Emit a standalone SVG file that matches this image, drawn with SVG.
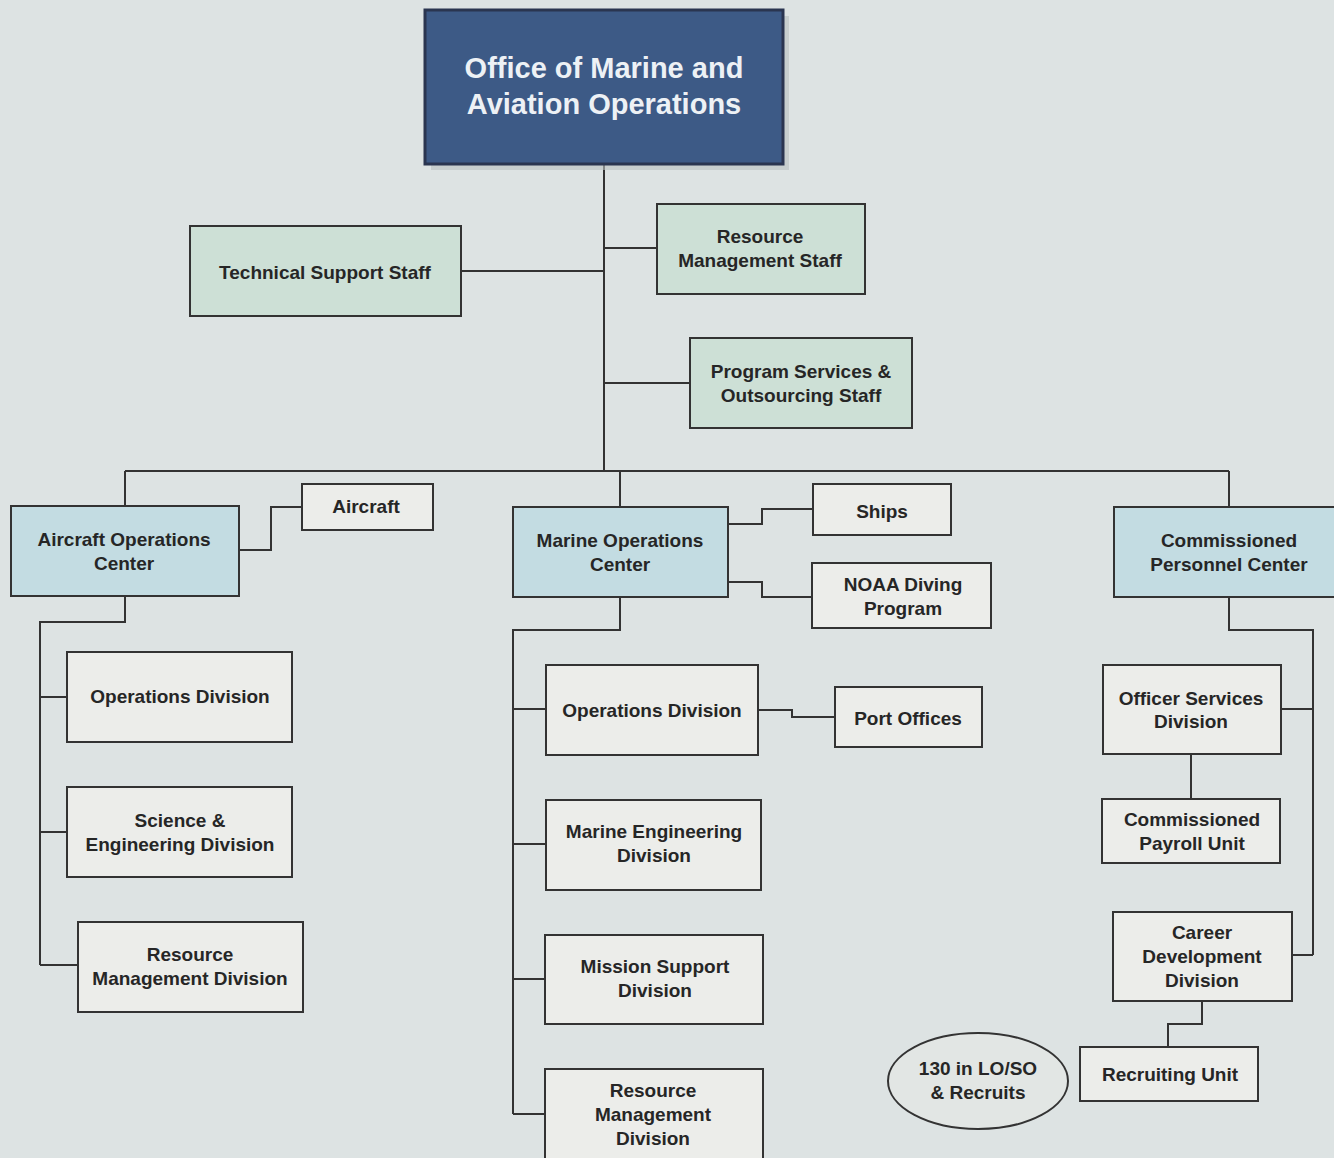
<svg xmlns="http://www.w3.org/2000/svg" width="1334" height="1158" viewBox="0 0 1334 1158">
<style>
  .bg { fill: #dde3e3; }
  .box { stroke: #333; stroke-width: 2; }
  .top { fill: #3d5a86; stroke: #2a3550; stroke-width: 3; }
  .staff { fill: #cde0d6; }
  .center { fill: #c3dce2; }
  .unit { fill: #ecedea; }
  .oval { fill: #e2e6e4; stroke: #333; stroke-width: 2; }
  .shadow { fill: #b9bfbf; opacity: 0.6; }
  text { font-family: "Liberation Sans", Arial, sans-serif; font-weight: bold; font-size: 19px; fill: #262626; text-anchor: middle; }
  .title { font-size: 29px; fill: #edf1f5; }
  .conn { fill: none; stroke: #333; stroke-width: 2; }
</style>
<rect class="bg" x="0" y="0" width="1334" height="1158"/>

<g id="connectors">
  <path class="conn" d="M604 164 V471"/>
  <path class="conn" d="M461 271 H604"/>
  <path class="conn" d="M604 248 H657"/>
  <path class="conn" d="M604 383 H690"/>
  <path class="conn" d="M125 471 H1229"/>
  <path class="conn" d="M125 471 V506"/>
  <path class="conn" d="M620 471 V507"/>
  <path class="conn" d="M1229 471 V507"/>
  <path class="conn" d="M239 550 H271 V507 H302"/>
  <path class="conn" d="M125 596 V622 H40 V965"/>
  <path class="conn" d="M40 697 H67"/>
  <path class="conn" d="M40 832 H67"/>
  <path class="conn" d="M40 965 H78"/>
  <path class="conn" d="M728 524 H762 V509 H813"/>
  <path class="conn" d="M728 582 H762 V597 H812"/>
  <path class="conn" d="M620 597 V630 H513 V1114"/>
  <path class="conn" d="M513 709 H546"/>
  <path class="conn" d="M513 844 H546"/>
  <path class="conn" d="M513 979 H545"/>
  <path class="conn" d="M513 1114 H545"/>
  <path class="conn" d="M758 710 H792 V717 H835"/>
  <path class="conn" d="M1229 597 V630 H1313 V955"/>
  <path class="conn" d="M1281 709 H1313"/>
  <path class="conn" d="M1292 955 H1313"/>
  <path class="conn" d="M1191 754 V799"/>
  <path class="conn" d="M1202 1001 V1024 H1168 V1047"/>
</g>

<g id="omao">
  <rect class="shadow" x="431" y="16" width="358" height="154"/>
  <rect class="top" x="425" y="10" width="358" height="154"/>
  <text class="title" x="604" y="78">Office of Marine and</text>
  <text class="title" x="604" y="114">Aviation Operations</text>
</g>

<g id="technical-support-staff">
  <rect class="box staff" x="190" y="226" width="271" height="90"/>
  <text x="325" y="279">Technical Support Staff</text>
</g>

<g id="resource-management-staff">
  <rect class="box staff" x="657" y="204" width="208" height="90"/>
  <text x="760" y="243">Resource</text>
  <text x="760" y="267">Management Staff</text>
</g>

<g id="program-services-staff">
  <rect class="box staff" x="690" y="338" width="222" height="90"/>
  <text x="801" y="378">Program Services &amp;</text>
  <text x="801" y="402">Outsourcing Staff</text>
</g>

<g id="aircraft-operations-center">
  <rect class="box center" x="11" y="506" width="228" height="90"/>
  <text x="124" y="546">Aircraft Operations</text>
  <text x="124" y="570">Center</text>
</g>

<g id="aircraft">
  <rect class="box unit" x="302" y="484" width="131" height="46"/>
  <text x="366" y="513">Aircraft</text>
</g>

<g id="aoc-operations-division">
  <rect class="box unit" x="67" y="652" width="225" height="90"/>
  <text x="180" y="703">Operations Division</text>
</g>

<g id="science-engineering-division">
  <rect class="box unit" x="67" y="787" width="225" height="90"/>
  <text x="180" y="827">Science &amp;</text>
  <text x="180" y="851">Engineering Division</text>
</g>

<g id="aoc-resource-management-division">
  <rect class="box unit" x="78" y="922" width="225" height="90"/>
  <text x="190" y="961">Resource</text>
  <text x="190" y="985">Management Division</text>
</g>

<g id="marine-operations-center">
  <rect class="box center" x="513" y="507" width="215" height="90"/>
  <text x="620" y="547">Marine Operations</text>
  <text x="620" y="571">Center</text>
</g>

<g id="ships">
  <rect class="box unit" x="813" y="484" width="138" height="51"/>
  <text x="882" y="518">Ships</text>
</g>

<g id="noaa-diving-program">
  <rect class="box unit" x="812" y="563" width="179" height="65"/>
  <text x="903" y="591">NOAA Diving</text>
  <text x="903" y="615">Program</text>
</g>

<g id="moc-operations-division">
  <rect class="box unit" x="546" y="665" width="212" height="90"/>
  <text x="652" y="717">Operations Division</text>
</g>

<g id="port-offices">
  <rect class="box unit" x="835" y="687" width="147" height="60"/>
  <text x="908" y="725">Port Offices</text>
</g>

<g id="marine-engineering-division">
  <rect class="box unit" x="546" y="800" width="215" height="90"/>
  <text x="654" y="838">Marine Engineering</text>
  <text x="654" y="862">Division</text>
</g>

<g id="mission-support-division">
  <rect class="box unit" x="545" y="935" width="218" height="89"/>
  <text x="655" y="973">Mission Support</text>
  <text x="655" y="997">Division</text>
</g>

<g id="moc-resource-management-division">
  <rect class="box unit" x="545" y="1069" width="218" height="100"/>
  <text x="653" y="1097">Resource</text>
  <text x="653" y="1121">Management</text>
  <text x="653" y="1145">Division</text>
</g>

<g id="commissioned-personnel-center">
  <rect class="box center" x="1114" y="507" width="240" height="90"/>
  <text x="1229" y="547">Commissioned</text>
  <text x="1229" y="571">Personnel Center</text>
</g>

<g id="officer-services-division">
  <rect class="box unit" x="1103" y="665" width="178" height="89"/>
  <text x="1191" y="705">Officer Services</text>
  <text x="1191" y="728">Division</text>
</g>

<g id="commissioned-payroll-unit">
  <rect class="box unit" x="1102" y="799" width="178" height="64"/>
  <text x="1192" y="826">Commissioned</text>
  <text x="1192" y="850">Payroll Unit</text>
</g>

<g id="career-development-division">
  <rect class="box unit" x="1113" y="912" width="179" height="89"/>
  <text x="1202" y="939">Career</text>
  <text x="1202" y="963">Development</text>
  <text x="1202" y="987">Division</text>
</g>

<g id="recruiting-unit">
  <rect class="box unit" x="1080" y="1047" width="178" height="54"/>
  <text x="1170" y="1081">Recruiting Unit</text>
</g>

<g id="lo-so-recruits">
  <ellipse class="oval" cx="978" cy="1081" rx="90" ry="48"/>
  <text x="978" y="1075">130 in LO/SO</text>
  <text x="978" y="1099">&amp; Recruits</text>
</g>
</svg>
